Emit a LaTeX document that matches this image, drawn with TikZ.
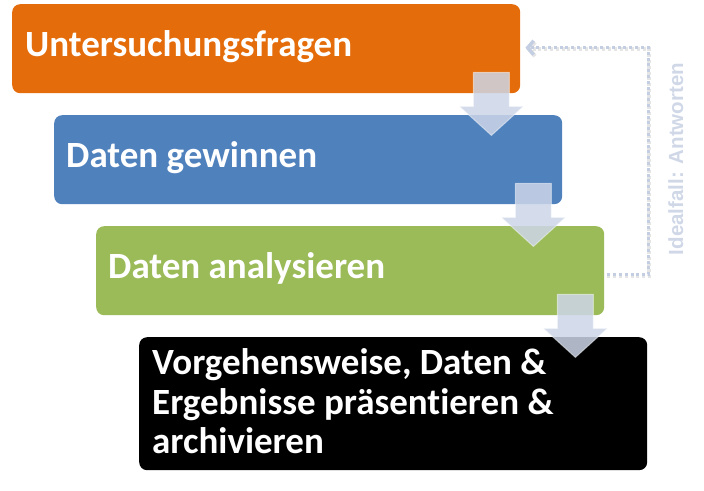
\documentclass[tikz,border=0pt]{standalone}
\usepackage{fontspec}
\setmainfont{Carlito}[Ligatures=NoCommon]
\newfontfamily\labfont{Liberation Sans}[UprightFont={* Bold}]
\usetikzlibrary{arrows.meta,calc}
\definecolor{corange}{RGB}{228,108,10}
\definecolor{cblue}{RGB}{79,129,189}
\definecolor{cgreen}{RGB}{155,187,89}
\definecolor{carrow}{RGB}{205,214,232}
\definecolor{cdot}{RGB}{196,206,226}
\definecolor{clabel}{RGB}{208,216,232}
\begin{document}
\begin{tikzpicture}[x=1pt,y=-1pt,
  stepbox/.style={rectangle, rounded corners=8pt, minimum width=508pt, inner sep=0pt, anchor=north west},
  steptext/.style={anchor=base west, text=white, font=\bfseries\fontsize{37}{39.5}\selectfont, inner sep=0pt},
  blockarrow/.style={fill=carrow, fill opacity=0.85, draw=white, draw opacity=0.45, line width=1pt, line join=miter},
  dotconn/.style={draw=cdot, line width=3.2pt, dash pattern=on 3pt off 2.8pt},
  dotshadow/.style={draw=black, draw opacity=0.10, line width=4pt, dash pattern=on 3pt off 2.8pt}]
\useasboundingbox (0,0) rectangle (704,490);
\node[stepbox, fill=corange, minimum height=89pt] (b1) at (12,4) {};
\node[stepbox, fill=cblue, minimum height=89pt] (b2) at (54,115) {};
\node[stepbox, fill=cgreen, minimum height=89pt] (b3) at (96,226) {};
\node[stepbox, fill=black, minimum height=133pt] (b4) at (139,337) {};
\node[steptext] (t1) at (25,56) {Untersuchungsfragen};
\node[steptext] (t2) at (66,167) {Daten gewinnen};
\node[steptext] (t3) at (108,278) {Daten analysieren};
\node[steptext] (t4a) at (152,374) {Vorgehensweise, Daten \&};
\node[steptext] (t4b) at (152,414) {Ergebnisse präsentieren \&};
\node[steptext] (t4c) at (152,453) {archivieren};
\foreach \b in {b1,b2,b3}{
  \path[blockarrow] ($(\b.south east)+(-47,-21)$) -- ++(36,0) -- ++(0,34) -- ++(14,0) -- ++(-32,29) -- ++(-32,-29) -- ++(14,0) -- cycle;
}
\coordinate (k) at ($(b1.east)+(128,-1)$);
\draw[dotshadow, -{Straight Barb[length=6pt,width=14pt,line width=4pt]}] ($(b3.east)+(3,5.5)$) -| ($(k)+(1,1.5)$) -- ($(b1.east)+(6,0.5)$);
\draw[dotconn, -{Straight Barb[length=6pt,width=14pt,line width=3.4pt]}] ($(b3.east)+(3,4)$) -| (k) -- ($(b1.east)+(5,-1)$);
\node[rotate=90, anchor=base, text=clabel, font=\labfont\fontsize{20.5}{20.5}\selectfont, inner sep=0pt] (lab) at (683,159) {Idealfall: Antworten};
\end{tikzpicture}
\end{document}
